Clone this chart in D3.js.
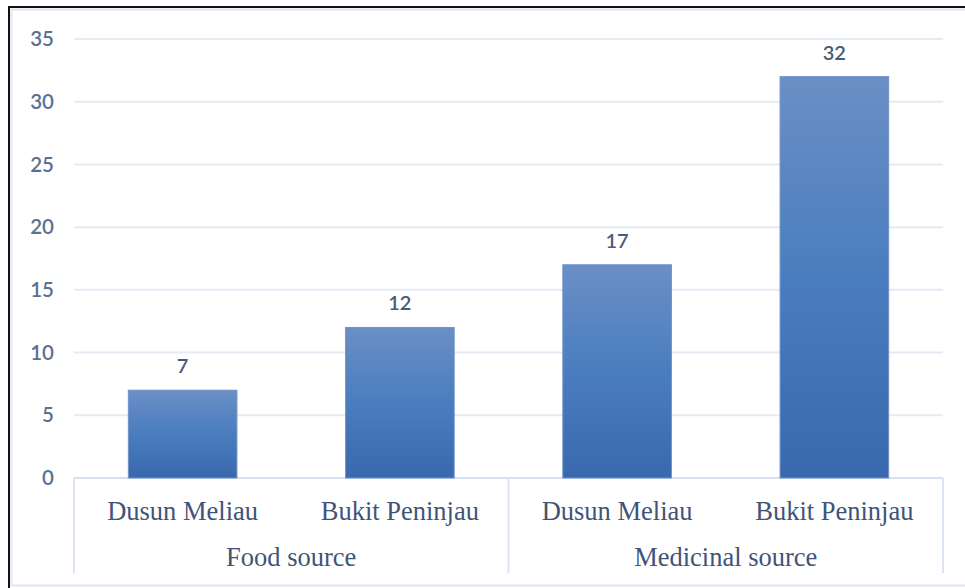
<!DOCTYPE html>
<html>
<head>
<meta charset="utf-8">
<script src="https://cdn.jsdelivr.net/npm/d3@7"></script>
<style>
  body { margin: 0; background: #fff; }
  svg { display: block; }
</style>
</head>
<body>
<div class="chart"></div>
<script>
// chart values
var sites = ["Dusun Meliau", "Bukit Peninjau", "Dusun Meliau", "Bukit Peninjau"],
    groups = ["Food source", "Medicinal source"],
    counts = [7, 12, 17, 32],
    yTicks = [0, 5, 10, 15, 20, 25, 30, 35];

var W = 965, H = 588,
    plot = {left: 74, right: 943, top: 39, bottom: 478};

var svg = d3.select(".chart").append("svg")
  .attr("width", W)
  .attr("height", H);

var defs = svg.append("defs");
var grad = defs.append("linearGradient")
  .attr("id", "barGrad")
  .attr("x1", 0).attr("y1", 0).attr("x2", 0).attr("y2", 1);
grad.append("stop").attr("offset", "0%").attr("stop-color", "#6b8fc5");
grad.append("stop").attr("offset", "50%").attr("stop-color", "#4a7dbf");
grad.append("stop").attr("offset", "100%").attr("stop-color", "#3a68ad");

// frame
svg.append("rect")
  .attr("x", 11.5).attr("y", 9.5)
  .attr("width", W).attr("height", 576)
  .attr("fill", "none")
  .attr("stroke", "#dfe8f4")
  .attr("stroke-width", 2);
svg.append("rect")
  .attr("x", 9).attr("y", 7)
  .attr("width", W + 10).attr("height", H + 10)
  .attr("fill", "none")
  .attr("stroke", "#111")
  .attr("stroke-width", 2);

var keys = sites.map((s, i) => i);

const x = d3.scaleBand()
  .domain(keys)
  .range([plot.left, plot.right])
  .paddingInner(0.5)
  .paddingOuter(0.25);

const y = d3.scaleLinear()
  .domain([0, 35])
  .range([plot.bottom, plot.top]);

// gridlines
svg.append("g")
  .attr("class", "grid")
  .selectAll("line")
  .data(yTicks)
  .enter().append("line")
  .attr("x1", plot.left)
  .attr("x2", plot.right)
  .attr("y1", d => y(d))
  .attr("y2", d => y(d))
  .attr("stroke", d => d === 0 ? "#d6e0ee" : "#e4ebf5")
  .attr("stroke-width", 2);

// y tick labels
svg.append("g")
  .selectAll("text")
  .data(yTicks)
  .enter().append("text")
  .attr("x", 54)
  .attr("y", d => y(d))
  .attr("dy", "0.35em")
  .attr("text-anchor", "end")
  .attr("font-family", "Lato, 'Open Sans', sans-serif")
  .attr("font-size", 20.5)
  .attr("font-weight", 600)
  .attr("fill", "#5a7192")
  .text(d => d);

// bars
svg.append("g")
  .selectAll("rect")
  .data(counts)
  .enter().append("rect")
  .attr("x", (d, i) => x(i))
  .attr("y", d => y(d))
  .attr("width", x.bandwidth())
  .attr("height", d => y(0) - y(d))
  .attr("fill", "url(#barGrad)")
  .attr("stroke", "#6f93c9")
  .attr("stroke-width", 1);

// value labels
svg.append("g")
  .selectAll("text")
  .data(counts)
  .enter().append("text")
  .attr("x", (d, i) => x(i) + x.bandwidth() / 2)
  .attr("y", d => y(d) - 17)
  .attr("text-anchor", "middle")
  .attr("font-family", "Lato, 'Open Sans', sans-serif")
  .attr("font-size", 20)
  .attr("font-weight", 600)
  .attr("fill", "#4a5a78")
  .text(d => d);

// category axis dividers
var step = x.step();
var dividers = [0, 1, 2].map(k => plot.left + k * 2 * step);
svg.append("g")
  .selectAll("line")
  .data(dividers)
  .enter().append("line")
  .attr("x1", d => d).attr("x2", d => d)
  .attr("y1", plot.bottom)
  .attr("y2", 573)
  .attr("stroke", "#dbe4f1")
  .attr("stroke-width", 2);

// site labels
svg.append("g")
  .selectAll("text")
  .data(sites)
  .enter().append("text")
  .attr("x", (d, i) => x(i) + x.bandwidth() / 2)
  .attr("y", 520)
  .attr("text-anchor", "middle")
  .attr("font-family", "'Liberation Serif', 'Times New Roman', serif")
  .attr("font-size", 26.5)
  .attr("fill", "#3f5478")
  .text(d => d);

// group labels
svg.append("g")
  .selectAll("text")
  .data(groups)
  .enter().append("text")
  .attr("x", (d, i) => plot.left + (2 * i + 1) * step)
  .attr("y", 566)
  .attr("text-anchor", "middle")
  .attr("font-family", "'Liberation Serif', 'Times New Roman', serif")
  .attr("font-size", 26.5)
  .attr("fill", "#3f5478")
  .text(d => d);
</script>
</body>
</html>
